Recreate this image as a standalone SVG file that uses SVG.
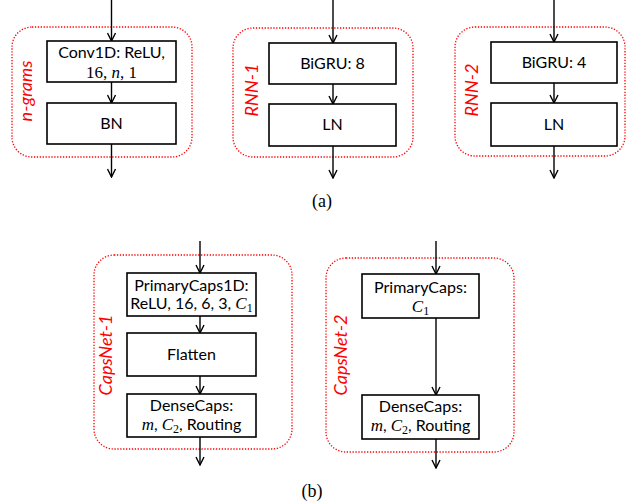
<svg xmlns="http://www.w3.org/2000/svg" width="627" height="502" viewBox="0 0 627 502">
<defs>
<marker id="arr" viewBox="0 0 10 10" refX="9" refY="5" markerWidth="10" markerHeight="10" markerUnits="userSpaceOnUse" orient="auto">
<polyline points="1,1 9,5 1,9" fill="none" stroke="#000" stroke-width="1.4"/>
</marker>
<style>
.grp{fill:none;stroke:#ff0000;stroke-width:1.3;stroke-dasharray:1.3 1.6}
.box{fill:#fff;stroke:#000;stroke-width:1.6}
.t{font-family:Lato,"Liberation Sans",sans-serif;font-size:16px;fill:#000;text-anchor:middle}
.m{font-family:"Liberation Serif",serif;font-style:italic;font-size:17px}
.d{font-family:"Liberation Serif",serif;font-size:17px}
.sub{font-family:"Liberation Serif",serif;font-size:12px}
.lab{font-family:Lato,"Liberation Sans",sans-serif;font-style:italic;font-size:18px;fill:#ff0000;text-anchor:middle}
.cap{font-family:"Liberation Serif",serif;font-size:18px;fill:#000;text-anchor:middle}
.c{fill:none;stroke:#000;stroke-width:1.4;marker-end:url(#arr)}
</style>
</defs>
<g id="group-ngrams"><rect class="grp" x="12" y="27" width="180" height="130" rx="20"/><text class="lab" transform="translate(32,91) rotate(-90)">n-grams</text></g>
<g id="group-rnn1"><rect class="grp" x="233" y="28" width="180" height="129" rx="20"/><text class="lab" transform="translate(258,90) rotate(-90)">RNN-1</text></g>
<g id="group-rnn2"><rect class="grp" x="455" y="27" width="170" height="129" rx="20"/><text class="lab" transform="translate(478,90) rotate(-90)">RNN-2</text></g>
<g id="group-capsnet1"><rect class="grp" x="94" y="255" width="198" height="194" rx="20"/><text class="lab" transform="translate(112,355) rotate(-90)">CapsNet-1</text></g>
<g id="group-capsnet2"><rect class="grp" x="326" y="258" width="188" height="194" rx="20"/><text class="lab" transform="translate(347,355) rotate(-90)">CapsNet-2</text></g>

<g id="connectors">
<line class="c" x1="111.5" y1="0" x2="111.5" y2="41"/>
<line class="c" x1="111.5" y1="82" x2="111.5" y2="103"/>
<line class="c" x1="111.5" y1="144" x2="111.5" y2="177"/>
<line class="c" x1="333" y1="0" x2="333" y2="43"/>
<line class="c" x1="333" y1="84" x2="333" y2="104"/>
<line class="c" x1="333" y1="146" x2="333" y2="178"/>
<line class="c" x1="554" y1="0" x2="554" y2="42"/>
<line class="c" x1="554" y1="83" x2="554" y2="103"/>
<line class="c" x1="554" y1="146" x2="554" y2="178"/>
<line class="c" x1="200" y1="241" x2="200" y2="273"/>
<line class="c" x1="200" y1="316" x2="200" y2="333"/>
<line class="c" x1="200" y1="376" x2="200" y2="394"/>
<line class="c" x1="200" y1="437" x2="200" y2="465"/>
<line class="c" x1="436" y1="241" x2="436" y2="274"/>
<line class="c" x1="436" y1="318" x2="436" y2="395"/>
<line class="c" x1="436" y1="439" x2="436" y2="468"/>
</g>

<g id="node-conv1d"><rect class="box" x="47" y="41" width="129" height="41"/><text class="t" x="111.5" y="58">Conv1D: ReLU,</text><text class="t" x="111.5" y="78"><tspan class="d">16, </tspan><tspan class="m">n</tspan><tspan class="d">, 1</tspan></text></g>
<g id="node-bn"><rect class="box" x="47" y="103" width="129" height="41"/><text class="t" x="111.5" y="129">BN</text></g>
<g id="node-bigru8"><rect class="box" x="269" y="43" width="127" height="41"/><text class="t" x="332.5" y="69">BiGRU: 8</text></g>
<g id="node-ln1"><rect class="box" x="269" y="104" width="127" height="42"/><text class="t" x="332.5" y="130">LN</text></g>
<g id="node-bigru4"><rect class="box" x="491" y="42" width="126" height="41"/><text class="t" x="554" y="68">BiGRU: 4</text></g>
<g id="node-ln2"><rect class="box" x="491" y="103" width="126" height="43"/><text class="t" x="554" y="130">LN</text></g>

<g id="node-primarycaps1d"><rect class="box" x="127" y="273" width="129" height="43"/><text class="t" x="191.5" y="291">PrimaryCaps1D:</text><text class="t" x="191.5" y="309">ReLU, 16, 6, 3, <tspan class="m">C</tspan><tspan class="sub" dy="3">1</tspan></text></g>
<g id="node-flatten"><rect class="box" x="127" y="333" width="129" height="43"/><text class="t" x="191.5" y="360">Flatten</text></g>
<g id="node-densecaps1"><rect class="box" x="127" y="394" width="129" height="43"/><text class="t" x="191.5" y="411">DenseCaps:</text><text class="t" x="191.5" y="430"><tspan class="m">m</tspan>, <tspan class="m">C</tspan><tspan class="sub" dy="3">2</tspan><tspan dy="-3">, Routing</tspan></text></g>

<g id="node-primarycaps"><rect class="box" x="362" y="274" width="117" height="44"/><text class="t" x="420.5" y="293">PrimaryCaps:</text><text class="t" x="420.5" y="312"><tspan class="m">C</tspan><tspan class="sub" dy="3">1</tspan></text></g>
<g id="node-densecaps2"><rect class="box" x="362" y="395" width="117" height="44"/><text class="t" x="420.5" y="412">DenseCaps:</text><text class="t" x="420.5" y="431"><tspan class="m">m</tspan>, <tspan class="m">C</tspan><tspan class="sub" dy="3">2</tspan><tspan dy="-3">, Routing</tspan></text></g>

<text class="cap" x="322" y="207">(a)</text>
<text class="cap" x="312" y="497">(b)</text>
</svg>
